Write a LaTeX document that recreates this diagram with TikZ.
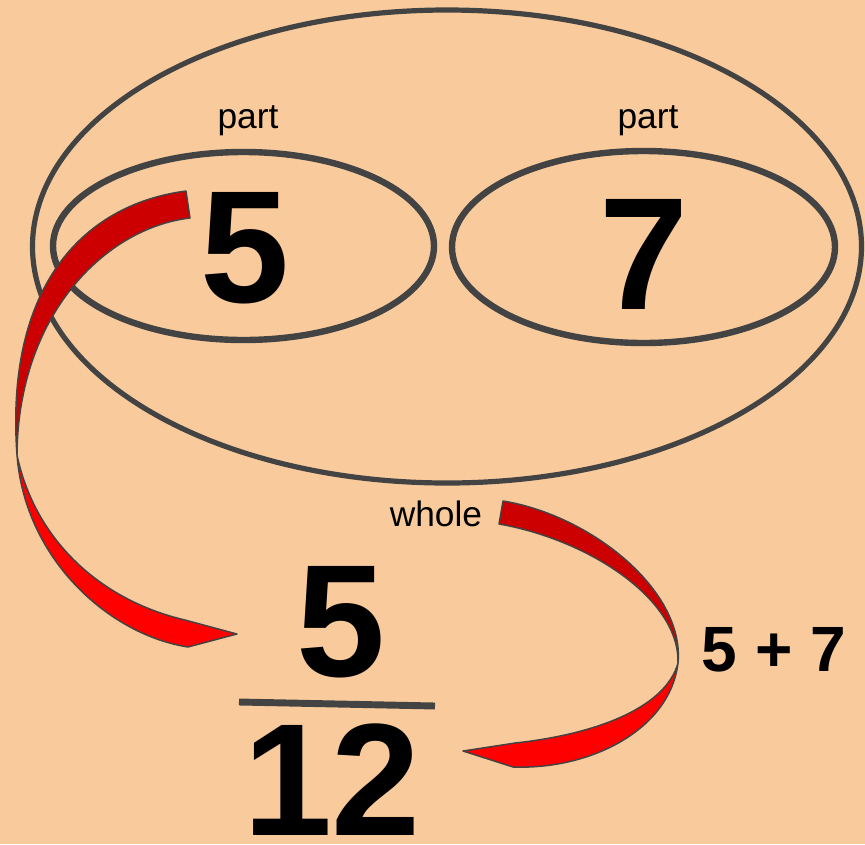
\documentclass[tikz,border=0pt]{standalone}
\usepackage{fontspec}
\setmainfont{Liberation Sans}
\usetikzlibrary{shapes.geometric}
\definecolor{paper}{HTML}{F9CB9C}
\definecolor{ring}{HTML}{434343}
\definecolor{ribbonback}{HTML}{CC0000}
\definecolor{ribbonfront}{HTML}{FF0000}

\begin{document}
\begin{tikzpicture}[
  x=0.75pt, y=-0.75pt,
  setring/.style={draw=ring, ellipse, inner sep=0pt},
  wordlabel/.style={font=\fontsize{26.5}{30}\selectfont, text=black, inner sep=0pt, anchor=base},
  bignum/.style={font=\fontsize{120}{120}\selectfont\bfseries, text=black, inner sep=0pt, anchor=center},
  sumlabel/.style={font=\fontsize{48}{50}\selectfont\bfseries, text=black, inner sep=0pt, anchor=center},
  ribback/.style={fill=ribbonback, draw=ring, line width=1.1pt, line join=round},
  ribfront/.style={fill=ribbonfront, draw=ring, line width=1.1pt, line join=round}
]
\useasboundingbox (0,0) rectangle (865,844);
\fill[paper] (0,0) rectangle (865,844);

% the whole and its two parts
\node[setring, line width=3.9pt, minimum width=621.75pt, minimum height=354.75pt] (whole) at (447,246.5) {};
\node[setring, line width=4.8pt, minimum width=285.75pt, minimum height=141pt] (lpart) at (243.5,246) {};
\node[setring, line width=4.8pt, minimum width=287.25pt, minimum height=144pt] (rpart) at (643.5,247) {};

\node[wordlabel] (lword) at (248,128) {part};
\node[wordlabel] (rword) at (648,128) {part};
\node[wordlabel] (wword) at (436,526) {whole};

\node[bignum] (lnum) at (245,248) {5};
\node[bignum] (rnum) at (643.5,254) {7};

% the fraction
\node[bignum] (numer) at (341,622) {5};
\node[bignum] (denom) at (332,780) {12};
\draw[ring, line width=5.2pt] (239,702) -- (435,706);

\node[sumlabel] (sum) at (774,650) {5 + 7};

% ribbon from the part to the numerator
\filldraw[ribback] (186,191) -- (190,218) .. controls (105,228) and (18,315) .. (17,455)
  .. controls (5,290) and (80,205) .. (186,191) -- cycle;
\filldraw[ribfront] (17,455) .. controls (25,560) and (110,635) .. (188,647) -- (237,634) -- (185,620)
  .. controls (100,600) and (35,540) .. (17,455) -- cycle;

% ribbon from the whole to the denominator
\filldraw[ribback] (503,501) .. controls (590,515) and (685,590) .. (678,663)
  .. controls (680,600) and (590,540) .. (499,524) -- cycle;
\filldraw[ribfront] (678,663) .. controls (670,730) and (590,770) .. (513,767) -- (463,751) -- (515,743)
  .. controls (590,735) and (665,710) .. (678,663) -- cycle;
\end{tikzpicture}
\end{document}
